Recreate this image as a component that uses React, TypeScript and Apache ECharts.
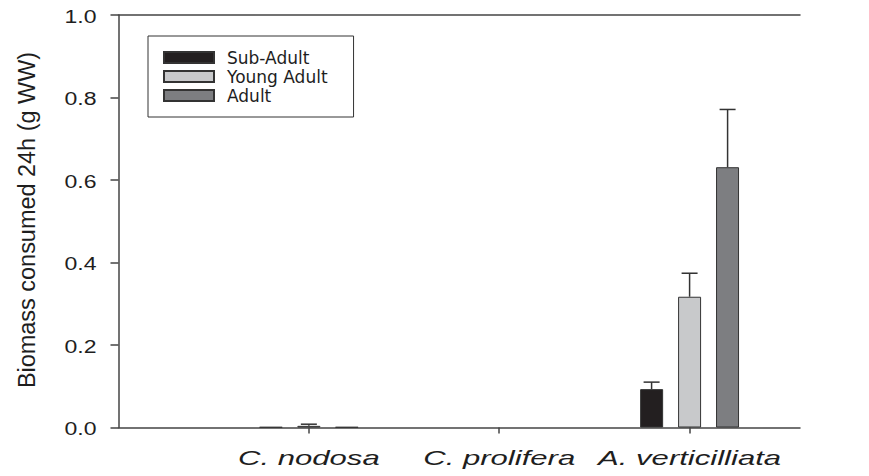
import React, { useEffect, useRef } from "react";
import * as echarts from "echarts";

const categories = ["C. nodosa", "C. prolifera", "A. verticilliata"];
const seriesNames = ["Sub-Adult", "Young Adult", "Adult"];
const subAdult = [0.001, 0, 0.093];
const youngAdult = [0.004, 0, 0.317];
const adult = [0.001, 0, 0.631];
const subAdultErr = [0, 0, 0.017];
const youngAdultErr = [0.004, 0, 0.057];
const adultErr = [0, 0, 0.14];
const yTicks = [0, 0.2, 0.4, 0.6, 0.8, 1.0];
const yTitle = "Biomass consumed 24h (g WW)";

const colors = ["#231f20", "#c8c9cb", "#7d7e81"];
const FONT = '"Liberation Sans", Arial, Helvetica, sans-serif';
const TEXT = "#1e1e1e";
const AXIS = "#444";

export default function App() {
  const ref = useRef<HTMLDivElement>(null);
  useEffect(() => {
    if (!ref.current) return;
    const chart = echarts.init(ref.current, null, { renderer: "svg" });
    const means = [subAdult, youngAdult, adult];
    const errs = [subAdultErr, youngAdultErr, adultErr];
    const errData: number[][] = [];
    means.forEach((arr, k) => {
      arr.forEach((v, i) => {
        errData.push([i + 1, v, errs[k][i], k]);
      });
    });
    const barSeries = seriesNames.map((name, k) => ({
      name,
      type: "bar",
      // zero-height bars are not drawn in the reference
      data: means[k].map((v, i) => [i + 1, v === 0 ? "-" : v]),
      barWidth: 23,
      barGap: "65%",
      itemStyle: { color: colors[k], borderColor: "#333", borderWidth: 1 },
      z: 2,
    }));
    chart.setOption({
      animation: false,
      backgroundColor: "#fff",
      grid: { left: 118.5, top: 15, right: 69, bottom: 48.5, containLabel: false },
      legend: {
        data: seriesNames,
        orient: "vertical",
        left: 148,
        top: 36,
        padding: [13, 26, 13, 15],
        itemWidth: 50,
        itemHeight: 11,
        itemGap: 2,
        backgroundColor: "#fff",
        borderColor: "#333",
        borderWidth: 1,
        borderRadius: 0,
        icon: "rect",
        textStyle: {
          fontFamily: '"DejaVu Sans", sans-serif',
          fontSize: 17,
          color: TEXT,
          padding: [0, 0, 0, 8],
        },
      },
      xAxis: [
        {
          type: "value",
          min: 0,
          max: 3.58,
          interval: 1,
          position: "bottom",
          axisLine: { show: true, lineStyle: { color: AXIS, width: 1.5 } },
          axisTick: {
            show: true,
            inside: false,
            length: 6,
            customValues: [1, 2, 3],
            lineStyle: { color: AXIS, width: 1.5 },
          },
          axisLabel: { show: false },
          splitLine: { show: false },
        },
        {
          type: "value",
          min: 0,
          max: 3.58,
          position: "top",
          axisLine: { show: true, lineStyle: { color: AXIS, width: 1.5 } },
          axisTick: { show: false },
          axisLabel: { show: false },
          splitLine: { show: false },
        },
      ],
      yAxis: {
        type: "value",
        min: 0,
        max: 1,
        interval: 0.2,
        axisLine: { show: true, lineStyle: { color: AXIS, width: 1.5 } },
        axisTick: { show: true, inside: false, length: 8, lineStyle: { color: AXIS, width: 1.5 } },
        axisLabel: { show: false },
        splitLine: { show: false },
      },
      graphic: [
        {
          type: "text",
          x: 27,
          y: 220,
          rotation: Math.PI / 2,
          scaleX: 1.02,
          style: {
            text: yTitle,
            font: `23px ${FONT}`,
            fill: TEXT,
            textAlign: "center",
            textVerticalAlign: "middle",
          },
        },
      ],
      series: [
        ...barSeries,
        {
          type: "custom",
          name: "errors",
          silent: true,
          clip: false,
          z: 3,
          data: errData,
          renderItem: (params: any, api: any) => {
            const x = api.value(0);
            const m = api.value(1);
            const e = api.value(2);
            const k = api.value(3);
            if (!e) return { type: "group", children: [] };
            const p0 = api.coord([x, m]);
            const p1 = api.coord([x, m + e]);
            const cx = p0[0] + (k - 1) * 38;
            const st = { stroke: "#333", lineWidth: 1.5 };
            return {
              type: "group",
              children: [
                { type: "line", shape: { x1: cx, y1: p0[1], x2: cx, y2: p1[1] }, style: st },
                { type: "line", shape: { x1: cx - 8, y1: p1[1], x2: cx + 8, y2: p1[1] }, style: st },
              ],
            };
          },
        },
        {
          type: "custom",
          name: "xlabels",
          silent: true,
          clip: false,
          data: categories.map((c, i) => [i + 1, 0]),
          renderItem: (params: any, api: any) => {
            const p = api.coord([api.value(0), 0]);
            return {
              type: "text",
              x: p[0],
              y: p[1] + 30,
              scaleX: 1.48,
              style: {
                text: categories[params.dataIndex],
                font: `italic 21px ${FONT}`,
                fill: TEXT,
                textAlign: "center",
                textVerticalAlign: "middle",
              },
            };
          },
        },
        {
          type: "custom",
          name: "ylabels",
          silent: true,
          clip: false,
          data: yTicks.map((v) => [0, v]),
          renderItem: (params: any, api: any) => {
            const p = api.coord([0, api.value(1)]);
            return {
              type: "text",
              x: p[0] - 22,
              y: p[1] + 1,
              scaleX: 1.28,
              style: {
                text: yTicks[params.dataIndex].toFixed(1),
                font: `18px ${FONT}`,
                fill: TEXT,
                textAlign: "right",
                textVerticalAlign: "middle",
              },
            };
          },
        },
      ],
    });
    return () => chart.dispose();
  }, []);
  return (
    <div
      ref={ref}
      style={{ position: "fixed", left: 0, top: 0, width: 869, height: 476 }}
    />
  );
}
